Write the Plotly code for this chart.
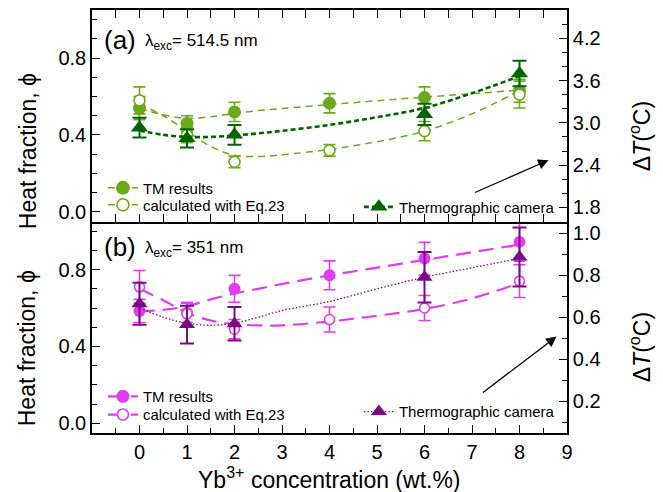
import plotly.graph_objects as go

# ---------------- data ----------------
conc = [0, 1, 2, 4, 6, 8]
conc_cam = [0, 1, 2, 6, 8]

# panel (a) 514.5 nm
tm_a = [0.54, 0.46, 0.52, 0.565, 0.595, 0.63]
tm_a_err = [0.06, 0.04, 0.05, 0.05, 0.055, 0.06]
calc_a = [0.58, 0.40, 0.26, 0.32, 0.42, 0.61]
calc_a_err = [0.07, 0.04, 0.03, 0.03, 0.05, 0.07]
cam_a = [2.93, 2.78, 2.83, 3.12, 3.70]
cam_a_err = [0.14, 0.13, 0.14, 0.15, 0.18]

fit_x_a = [0, 0.5, 1, 1.5, 2, 2.5, 3, 4, 5, 6, 7, 8]
tm_fit_a = [0.54, 0.505, 0.487, 0.495, 0.512, 0.527, 0.538, 0.558, 0.578, 0.597, 0.615, 0.633]
calc_fit_a = [0.56, 0.50, 0.42, 0.34, 0.295, 0.288, 0.297, 0.325, 0.365, 0.42, 0.51, 0.63]
cam_fit_a = [2.89, 2.83, 2.80, 2.80, 2.82, 2.85, 2.886, 2.97, 3.08, 3.21, 3.42, 3.66]

# panel (b) 351 nm
tm_b = [0.585, 0.575, 0.70, 0.77, 0.857, 0.944]
tm_b_err = [0.06, 0.05, 0.07, 0.075, 0.085, 0.1]
calc_b = [0.71, 0.57, 0.49, 0.54, 0.60, 0.74]
calc_b_err = [0.085, 0.06, 0.05, 0.065, 0.065, 0.085]
cam_b = [0.664, 0.565, 0.569, 0.79, 0.886]
cam_b_err = [0.10, 0.09, 0.08, 0.12, 0.14]

fit_x_b = [0, 0.5, 1, 1.5, 2, 2.5, 3, 4, 5, 6, 7, 8]
tm_fit_b = [0.585, 0.59, 0.61, 0.645, 0.675, 0.70, 0.725, 0.77, 0.81, 0.85, 0.89, 0.93]
calc_fit_b = [0.70, 0.64, 0.575, 0.535, 0.516, 0.51, 0.51, 0.53, 0.56, 0.595, 0.65, 0.73]
cam_fit_b = [0.645, 0.60, 0.572, 0.562, 0.572, 0.60, 0.632, 0.675, 0.735, 0.79, 0.835, 0.88]

x_ticks = [0, 1, 2, 3, 4, 5, 6, 7, 8, 9]

# ---------------- styles ----------------
LG = "#6aaa1a"   # light green
DG = "#006400"   # dark green
MG = "#e23cf2"   # magenta
PU = "#7a0a86"   # purple
FONT = "Liberation Sans, Arial, sans-serif"

fig = go.Figure()


def err(arr, color, width=6, thick=1.6):
    return dict(type="data", array=arr, visible=True, color=color, width=width, thickness=thick)


def add_panel(xa, ya, yr, tm, tme, calc, calce, cam, came, fx, tmf, calcf, camf,
              c1, c2, dash1, lw1, dash2, lw2, legs, msize):
    fig.add_trace(go.Scatter(x=fx, y=tmf, mode="lines", line=dict(color=c1, dash=dash1, width=lw1, shape="spline"),
                             xaxis=xa, yaxis=ya, showlegend=False, hoverinfo="skip"))
    fig.add_trace(go.Scatter(x=fx, y=calcf, mode="lines", line=dict(color=c1, dash=dash1, width=lw1, shape="spline"),
                             xaxis=xa, yaxis=ya, showlegend=False, hoverinfo="skip"))
    fig.add_trace(go.Scatter(x=fx, y=camf, mode="lines", line=dict(color=c2, dash=dash2, width=lw2, shape="spline"),
                             xaxis=xa, yaxis=yr, showlegend=False, hoverinfo="skip"))
    fig.add_trace(go.Scatter(x=conc, y=tm, mode="markers", marker=dict(color=c1, size=msize, symbol="circle"),
                             error_y=err(tme, c1), xaxis=xa, yaxis=ya, showlegend=False))
    fig.add_trace(go.Scatter(x=conc, y=calc, mode="markers",
                             marker=dict(color="white", size=msize - 2, symbol="circle", line=dict(color=c1, width=1.6)),
                             error_y=err(calce, c1), xaxis=xa, yaxis=ya, showlegend=False))
    fig.add_trace(go.Scatter(x=conc_cam, y=cam, mode="markers", marker=dict(color=c2, size=msize + 2, symbol="triangle-up"),
                             error_y=err(came, c2, 7, 2.0), xaxis=xa, yaxis=yr, showlegend=False))
    # legend proxies (one legend box per entry so each can be placed like the original)
    fig.add_trace(go.Scatter(x=[None], y=[None], mode="lines+markers", name="TM results",
                             line=dict(color=c1, dash=dash1, width=lw1),
                             marker=dict(color=c1, size=msize + 1), xaxis=xa, yaxis=ya, legend=legs[0]))
    fig.add_trace(go.Scatter(x=[None], y=[None], mode="lines+markers", name="calculated with Eq.23",
                             line=dict(color=c1, dash=dash1, width=lw1),
                             marker=dict(color="white", size=msize - 1, line=dict(color=c1, width=1.6)),
                             xaxis=xa, yaxis=ya, legend=legs[1]))
    fig.add_trace(go.Scatter(x=[None], y=[None], mode="lines+markers", name="Thermographic camera",
                             line=dict(color=c2, dash=dash2, width=lw2),
                             marker=dict(color=c2, size=msize + 2, symbol="triangle-up"),
                             xaxis=xa, yaxis=yr, legend=legs[2]))


add_panel("x2", "y3", "y4", tm_a, tm_a_err, calc_a, calc_a_err, cam_a, cam_a_err,
          fit_x_a, tm_fit_a, calc_fit_a, cam_fit_a, LG, DG, "7px,5px", 1.5, "5px,3px", 2.6,
          ["legend", "legend2", "legend3"], 13)
add_panel("x", "y", "y2", tm_b, tm_b_err, calc_b, calc_b_err, cam_b, cam_b_err,
          fit_x_b, tm_fit_b, calc_fit_b, cam_fit_b, MG, PU, "15px,8px", 2.2, "1.5px,2px", 1.3,
          ["legend4", "legend5", "legend6"], 12)

axis_common = dict(showline=True, linecolor="black", linewidth=1.6, ticks="inside", ticklen=8,
                   tickwidth=1.4, tickcolor="black", showgrid=False, zeroline=False, automargin=False,
                   tickfont=dict(size=20, color="black", family=FONT))
minor_common = dict(ticks="inside", ticklen=5, tickwidth=1.2, tickcolor="black")

xcommon = dict(axis_common, range=[-1, 9], tickvals=x_ticks,
               minor=dict(minor_common, dtick=0.5, tick0=0))


def leg(x, y, xanchor):
    return dict(x=x, y=y, xanchor=xanchor, yanchor="middle", bgcolor="rgba(0,0,0,0)",
                font=dict(size=15), itemwidth=30)


fig.update_layout(
    width=663, height=492,
    margin=dict(l=92, r=96, t=10, b=59),
    plot_bgcolor="white", paper_bgcolor="white",
    font=dict(family=FONT, color="black"),
    # bottom panel x axis (labels), no mirrored line: the shared border is drawn once by the top panel
    xaxis=dict(xcommon, domain=[0, 1], anchor="y", mirror=False),
    # top panel x axis: border line below and above with ticks
    xaxis2=dict(xcommon, domain=[0, 1], anchor="y3", matches="x", showticklabels=False, mirror="allticks"),
    # ticks pointing down into the bottom panel from the shared border
    xaxis3=dict(xcommon, overlaying="x", side="top", anchor="y", matches="x", showline=False,
                showticklabels=False),
    yaxis=dict(axis_common, domain=[0, 0.5], range=[-0.05, 1.05], tickvals=[0, 0.4, 0.8],
               ticktext=["0.0", "0.4", "0.8"], anchor="x",
               minor=dict(minor_common, dtick=0.1, tick0=0)),
    yaxis2=dict(axis_common, overlaying="y", side="right", anchor="x", range=[0.05, 1.055],
                tickvals=[0.2, 0.4, 0.6, 0.8, 1.0], ticktext=["0.2", "0.4", "0.6", "0.8", "1.0"],
                minor=dict(minor_common, dtick=0.1, tick0=0)),
    yaxis3=dict(axis_common, domain=[0.5, 1], range=[-0.05, 1.05], tickvals=[0, 0.4, 0.8],
                ticktext=["0.0", "0.4", "0.8"], anchor="x2",
                minor=dict(minor_common, dtick=0.1, tick0=0)),
    yaxis4=dict(axis_common, overlaying="y3", side="right", anchor="x2", range=[1.6, 4.6],
                tickvals=[1.8, 2.4, 3.0, 3.6, 4.2], ticktext=["1.8", "2.4", "3.0", "3.6", "4.2"],
                minor=dict(minor_common, dtick=0.2, tick0=0)),
    legend=leg(0.023, 0.579, "left"),
    legend2=leg(0.023, 0.539, "left"),
    legend3=leg(0.985, 0.534, "right"),
    legend4=leg(0.023, 0.086, "left"),
    legend5=leg(0.023, 0.043, "left"),
    legend6=leg(0.985, 0.050, "right"),
)

annotations = [
    # axis titles
    dict(text="Heat fraction, ϕ", x=-0.135, y=0.666, xref="paper", yref="paper", textangle=-90,
         showarrow=False, font=dict(size=23), xanchor="center", yanchor="middle"),
    dict(text="Heat fraction, ϕ", x=-0.135, y=0.200, xref="paper", yref="paper", textangle=-90,
         showarrow=False, font=dict(size=23), xanchor="center", yanchor="middle"),
    dict(text="Δ<i>T</i>(<sup>o</sup>C)", x=1.154, y=0.702, xref="paper", yref="paper", textangle=-90,
         showarrow=False, font=dict(size=23), xanchor="center", yanchor="middle"),
    dict(text="Δ<i>T</i>(<sup>o</sup>C)", x=1.154, y=0.203, xref="paper", yref="paper", textangle=-90,
         showarrow=False, font=dict(size=23), xanchor="center", yanchor="middle"),
    dict(text="Yb<sup>3+</sup> concentration (wt.%)", x=0.499, y=-0.106, xref="paper", yref="paper",
         showarrow=False, font=dict(size=23), xanchor="center", yanchor="middle"),
    # panel labels
    dict(text="(a)", x=0.02, y=0.929, xref="paper", yref="paper", xanchor="left", yanchor="middle",
         showarrow=False, font=dict(size=26)),
    dict(text="λ<sub>exc</sub>= 514.5 nm", x=0.108, y=0.925, xref="paper", yref="paper", xanchor="left",
         yanchor="middle", showarrow=False, font=dict(size=17)),
    dict(text="(b)", x=0.02, y=0.440, xref="paper", yref="paper", xanchor="left", yanchor="middle",
         showarrow=False, font=dict(size=26)),
    dict(text="λ<sub>exc</sub>= 351 nm", x=0.108, y=0.436, xref="paper", yref="paper", xanchor="left",
         yanchor="middle", showarrow=False, font=dict(size=17)),
    # arrows pointing to the right-hand axes
    dict(x=0.961, y=0.645, ax=-75, ay=33, xref="paper", yref="paper",
         showarrow=True, arrowhead=2, arrowsize=1.6, arrowwidth=1.3, arrowcolor="black", text=""),
    dict(x=0.978, y=0.228, ax=-75, ay=57, xref="paper", yref="paper",
         showarrow=True, arrowhead=2, arrowsize=1.6, arrowwidth=1.3, arrowcolor="black", text=""),
]
fig.update_layout(annotations=annotations)

fig.write_html("out.html", config={"displayModeBar": False},
               post_script="document.body.style.margin='0px';")
